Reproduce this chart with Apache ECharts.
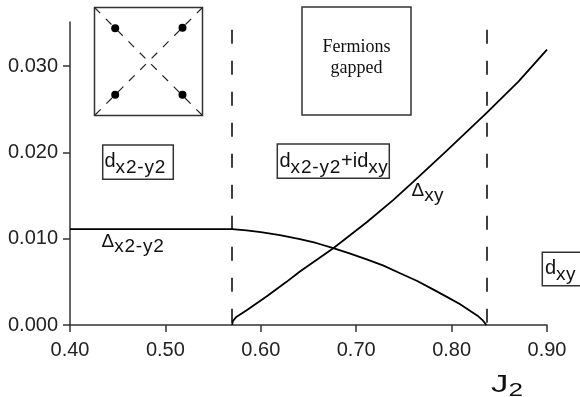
<!DOCTYPE html>
<html>
<head>
<meta charset="utf-8">
<script src="https://cdn.jsdelivr.net/npm/echarts@6/dist/echarts.min.js"></script>
<style>
  html, body { margin: 0; padding: 0; background: #fff; }
  #chart { width: 580px; height: 397px; }
</style>
</head>
<body>
<div id="chart"></div>
<script>
// Gap amplitudes versus J2
const xTicks = [0.40, 0.50, 0.60, 0.70, 0.80, 0.90];
const yTicks = [0.000, 0.010, 0.020, 0.030];

// Delta_{x2-y2}: [J2, gap]
const gapX2Y2 = [
  [0.400, 0.0111], [0.570, 0.0111], [0.585, 0.01095], [0.600, 0.01075],
  [0.620, 0.01040], [0.641, 0.00995], [0.658, 0.0095], [0.676, 0.0089],
  [0.693, 0.0083], [0.711, 0.0076], [0.728, 0.0069], [0.746, 0.0060],
  [0.764, 0.0051], [0.781, 0.0041], [0.796, 0.0032], [0.809, 0.0024],
  [0.820, 0.0016], [0.828, 0.0010], [0.833, 0.0005], [0.8365, 0.0]
];

// Delta_{xy}: [J2, gap]
const gapXY = [
  [0.570, 0.0], [0.5705, 0.0004], [0.5725, 0.0007], [0.5747, 0.00096],
  [0.5852, 0.0017], [0.606, 0.0033], [0.627, 0.0050], [0.641, 0.0062],
  [0.676, 0.0089], [0.711, 0.0119], [0.739, 0.0145], [0.760, 0.0166],
  [0.795, 0.0202], [0.837, 0.0246], [0.870, 0.0282], [0.900, 0.0319]
];

// Phase boundaries (dashed verticals)
const boundaries = [0.570, 0.837];
const boundaryTop = 0.0342;

const SANS = 'Liberation Sans';
const INK = '#111';

// Rich-text styles: main glyphs and lowered subscripts ('w' = slightly spaced subscript)
function richStyles(mainSize, subSize, subDrop) {
  return {
    m: { fontFamily: SANS, fontSize: mainSize, lineHeight: mainSize, verticalAlign: 'top', fill: INK },
    s: { fontFamily: SANS, fontSize: subSize, lineHeight: subSize, verticalAlign: 'top', padding: [subDrop, 0.3, 0, 0], fill: INK },
    w: { fontFamily: SANS, fontSize: subSize, lineHeight: subSize, verticalAlign: 'top', padding: [subDrop, 0.8, 0, 0], fill: INK }
  };
}
// Subscript text is split per character so each glyph gets its own spacing
function label(parts) {
  return parts.map(p => (p[0] === 's' || p[0] === 'w')
    ? p[1].split('').map(ch => '{' + p[0] + '|' + ch + '}').join('')
    : '{' + p[0] + '|' + p[1] + '}').join('');
}

const chart = echarts.init(document.getElementById('chart'), null, { renderer: 'canvas' });

const lineStyle = { color: '#000', width: 1.8 };
const axisColor = '#333';

const option = {
  animation: false,
  backgroundColor: '#fff',
  grid: { left: 70, right: 33, top: 22, bottom: 72, outerBoundsMode: 'none' },
  xAxis: {
    type: 'value', min: 0.4, max: 0.9, interval: 0.1,
    axisLine: { show: true, onZero: false, lineStyle: { color: axisColor, width: 1.5 } },
    axisTick: { show: true, length: 7, lineStyle: { color: axisColor, width: 1.5 } },
    axisLabel: {
      margin: 15, color: '#222', fontFamily: SANS, fontSize: 20,
      customValues: xTicks,
      formatter: v => v.toFixed(2)
    },
    splitLine: { show: false }
  },
  yAxis: {
    type: 'value', min: 0, max: 0.0351,
    axisLine: { show: true, lineStyle: { color: axisColor, width: 1.5 } },
    axisTick: { show: true, length: 7, customValues: yTicks, lineStyle: { color: axisColor, width: 1.5 } },
    axisLabel: {
      margin: 12, color: '#222', fontFamily: SANS, fontSize: 20,
      customValues: yTicks,
      formatter: v => v.toFixed(3)
    },
    splitLine: { show: false }
  },
  series: [
    {
      name: 'gapX2Y2', type: 'line', data: gapX2Y2, showSymbol: false,
      smooth: false, lineStyle: lineStyle,
      markLine: {
        silent: true, symbol: 'none', label: { show: false },
        lineStyle: { type: [14, 17], color: '#000', width: 1.5 },
        data: boundaries.map(b => [{ coord: [b, boundaryTop] }, { coord: [b, 0] }])
      }
    },
    {
      name: 'gapXY', type: 'line', data: gapXY, showSymbol: false,
      smooth: false, lineStyle: lineStyle
    }
  ],
  graphic: [
    // Lattice sketch: square plaquette with dashed diagonals and four sites
    {
      type: 'group', left: 92, top: 5,
      children: [
        { type: 'rect', shape: { x: 0, y: 0, width: 108, height: 108 }, style: { fill: '#fff', stroke: '#333', lineWidth: 1.5 } },
        { type: 'line', shape: { x1: 0, y1: 0, x2: 108, y2: 108 }, style: { stroke: '#222', lineWidth: 1.2, lineDash: [8, 8] } },
        { type: 'line', shape: { x1: 108, y1: 0, x2: 0, y2: 108 }, style: { stroke: '#222', lineWidth: 1.2, lineDash: [8, 8] } },
        { type: 'circle', shape: { cx: 20.7, cy: 20.7, r: 4 }, style: { fill: '#000' } },
        { type: 'circle', shape: { cx: 88, cy: 20.3, r: 4 }, style: { fill: '#000' } },
        { type: 'circle', shape: { cx: 20.7, cy: 87.3, r: 4 }, style: { fill: '#000' } },
        { type: 'circle', shape: { cx: 88, cy: 87.3, r: 4 }, style: { fill: '#000' } }
      ]
    },
    // Fermions gapped box
    { type: 'rect', shape: { x: 302, y: 7, width: 109, height: 108 }, style: { fill: '#fff', stroke: '#333', lineWidth: 1.5 } },
    { type: 'text', x: 356.5, y: 47, style: { text: 'Fermions', fontFamily: 'Liberation Serif', fontSize: 18, fill: INK, align: 'center', verticalAlign: 'middle' } },
    { type: 'text', x: 356.5, y: 68, style: { text: 'gapped', fontFamily: 'Liberation Serif', fontSize: 18, fill: INK, align: 'center', verticalAlign: 'middle' } },

    // Phase labels in boxes
    { type: 'rect', shape: { x: 102.7, y: 145, width: 70.6, height: 34.3 }, style: { fill: '#fff', stroke: '#333', lineWidth: 1.5 } },
    { type: 'text', x: 104.5, y: 151.4, style: { text: label([['m', 'd'], ['w', 'x2-y2']]), rich: richStyles(20, 19, 6.8), align: 'left', verticalAlign: 'top' } },

    { type: 'rect', shape: { x: 277.3, y: 144, width: 112, height: 34.3 }, style: { fill: '#fff', stroke: '#333', lineWidth: 1.5 } },
    { type: 'text', x: 279.5, y: 151.1, style: { text: label([['m', 'd'], ['w', 'x2-y2'], ['m', '+id'], ['s', 'xy']]), rich: richStyles(20, 19, 6.8), align: 'left', verticalAlign: 'top' } },

    { type: 'rect', shape: { x: 542.3, y: 252.3, width: 60, height: 33.4 }, style: { fill: '#fff', stroke: '#333', lineWidth: 1.5 } },
    { type: 'text', x: 545, y: 258.1, style: { text: label([['m', 'd'], ['s', 'xy']]), rich: richStyles(20, 19, 6.8), align: 'left', verticalAlign: 'top' } },

    // Curve labels
    { type: 'text', x: 101.5, y: 232.2, style: { text: label([['m', 'Δ'], ['w', 'x2-y2']]), rich: richStyles(19, 19, 5), align: 'left', verticalAlign: 'top' } },
    { type: 'text', x: 411.5, y: 180.9, style: { text: label([['m', 'Δ'], ['s', 'xy']]), rich: richStyles(19, 19, 5), align: 'left', verticalAlign: 'top' } },

    // Axis title J2
    { type: 'text', x: 491, y: 373, scaleX: 1.45, style: { text: label([['m', 'J'], ['s', '2']]), rich: richStyles(24, 18, 9.3), align: 'left', verticalAlign: 'top' } }
  ]
};

chart.setOption(option);
</script>
</body>
</html>
